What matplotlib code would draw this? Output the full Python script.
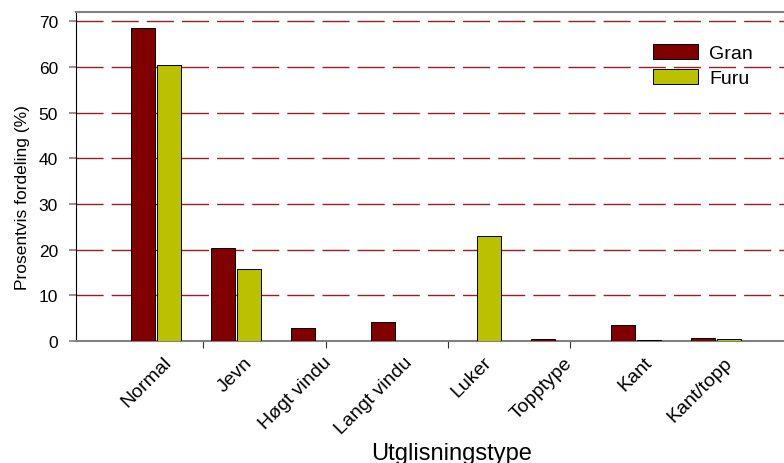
import matplotlib
matplotlib.use("Agg")
import matplotlib.pyplot as plt
import numpy as np

plt.rcParams['font.family'] = ['Liberation Sans', 'DejaVu Sans']

##Data
kategorier = ["Normal", "Jevn", "Høgt vindu", "Langt vindu", "Luker",
              "Topptype", "Kant", "Kant/topp"]
gran = [68.5, 20.4, 2.8, 4.1, 0.0, 0.35, 3.4, 0.7]
furu = [60.5, 15.7, 0.0, 0.0, 23.0, 0.0, 0.3, 0.35]
yticks = [0, 10, 20, 30, 40, 50, 60, 70]

fig = plt.figure(figsize=(7.84, 4.64), dpi=100)
ax = fig.add_axes([76/784, 122/464, 708/784, 329/464])

x = np.arange(len(kategorier))
w = 0.3
ax.bar(x - 0.16, gran, w, color="#800000", edgecolor="black", linewidth=0.7,
       label="Gran", zorder=3)
ax.bar(x + 0.16, furu, w, color="#bbc000", edgecolor="black", linewidth=0.7,
       label="Furu", zorder=3)

# stiplede rutenettlinjer
for v in yticks[1:]:
    ax.axhline(v, color="#9a2020", linewidth=1.0, linestyle=(0, (19.5, 5.8)),
               zorder=1)

ax.set_xlim(-1, 7.85)
ax.set_ylim(0, 72)
ax.set_yticks(yticks)
# etikettene sitter litt til hoyre for gruppemidten
ax.set_xticks(x + 0.09)
ax.set_xticklabels(kategorier, rotation=45, ha="right", rotation_mode="anchor",
                   fontsize=14)
ax.tick_params(axis="x", length=0, pad=9)
ax.set_xticks([0.5875, 2.125, 3.65, 5.175], minor=True)
ax.tick_params(axis="x", which="minor", length=5, color="#333333", width=0.8)
ax.tick_params(axis="y", length=5, color="#808080", width=1.2, labelsize=12.5,
               pad=8)

for s in ["top", "bottom", "right"]:
    ax.spines[s].set_color("#808080")
    ax.spines[s].set_linewidth(1.5)
ax.spines["right"].set_visible(False)
ax.spines["left"].set_color("black")
ax.spines["left"].set_linewidth(0.8)

ax.set_ylabel("Prosentvis fordeling (%)", fontsize=12.5)
ax.yaxis.set_label_coords(-0.065, 0.44)
ax.set_xlabel("Utglisningstype", fontsize=17)
ax.xaxis.set_label_coords(0.531, -0.308)

ax.legend(loc="upper left", bbox_to_anchor=(0.801, 0.933), frameon=False,
          borderpad=0, fontsize=14, handlelength=2.3, handleheight=0.8,
          labelspacing=0.35, handletextpad=0.6)

fig.savefig("out.png", dpi=100)
